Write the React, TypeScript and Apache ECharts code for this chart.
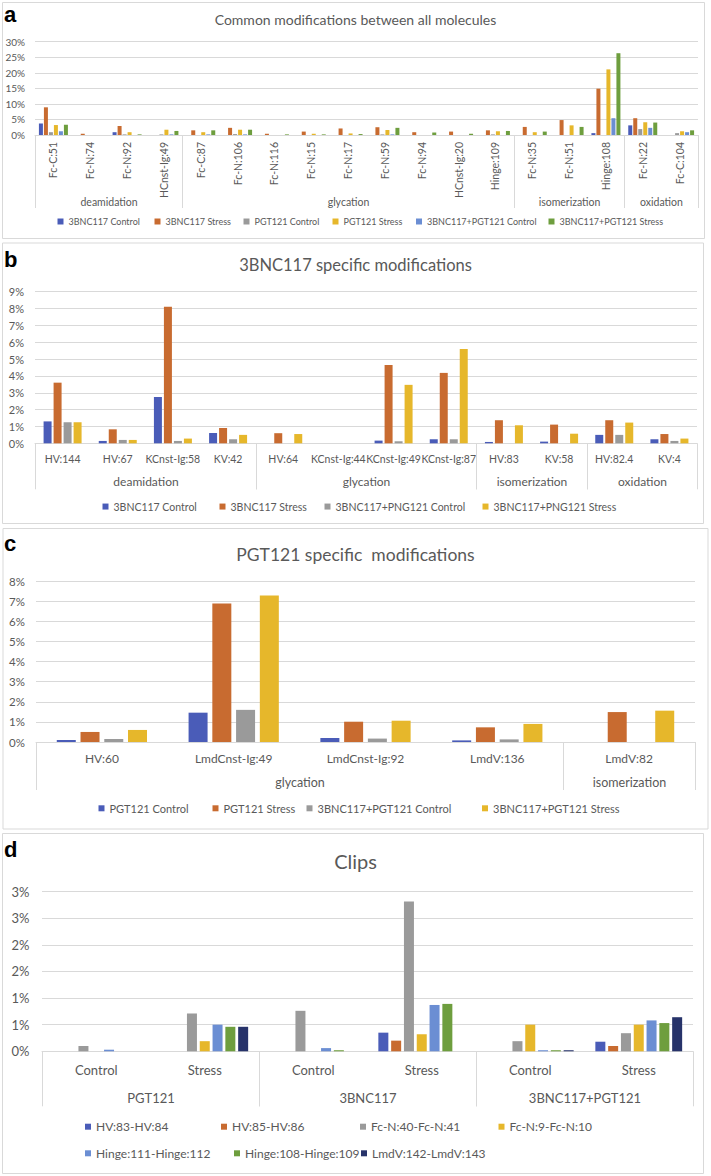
import React, { useEffect, useRef } from "react";
import * as echarts from "echarts";

const FONT = "Lato";
const TXT = "#595959";
const LINE = "#D9D9D9";

const COL_BLUE = "#4A5CB8";
const COL_ORANGE = "#C86B30";
const COL_GRAY = "#9A9A9A";
const COL_YELLOW = "#E6B72B";
const COL_LIGHTBLUE = "#6B8ED3";
const COL_GREEN = "#6E9E3E";
const COL_NAVY = "#27336A";

// ---------- Panel a: Common modifications ----------
const A_CATEGORIES = [
  "Fc-C:51", "Fc-N:74", "Fc-N:92", "HCnst-Ig:49",
  "Fc-C:87", "Fc-N:106", "Fc-N:116", "Fc-N:15", "Fc-N:17", "Fc-N:59", "Fc-N:94", "HCnst-Ig:20", "Hinge:109",
  "Fc-N:35", "Fc-N:51", "Hinge:108",
  "Fc-N:22", "Fc-C:104",
];
const A_GROUP_NAMES = ["deamidation", "glycation", "isomerization", "oxidation"];
const A_GROUP_SIZES = [4, 9, 3, 2];
const A_SERIES_NAMES = [
  "3BNC117 Control", "3BNC117 Stress", "PGT121 Control", "PGT121 Stress",
  "3BNC117+PGT121 Control", "3BNC117+PGT121 Stress",
];
const A_3BNC117_CONTROL = [3.7, 0, 0.9, 0, 0, 0, 0, 0, 0, 0, 0, 0, 0, 0, 0, 0.6, 3.1, 0];
const A_3BNC117_STRESS = [8.9, 0.4, 2.9, 0, 1.5, 2.3, 0.4, 1.1, 2.1, 2.5, 0.9, 1.1, 1.5, 2.6, 4.8, 14.9, 5.4, 0];
const A_PGT121_CONTROL = [0.9, 0, 0.2, 0.2, 0, 0.3, 0, 0, 0, 0.2, 0, 0, 0.2, 0, 0, 0, 1.9, 0.6];
const A_PGT121_STRESS = [3.2, 0, 0.9, 1.7, 0.9, 1.7, 0, 0.4, 0.5, 1.6, 0, 0, 1.2, 0.9, 3.1, 21.1, 4.1, 1.2];
const A_COMBO_CONTROL = [1.2, 0, 0, 0.2, 0.2, 0.2, 0, 0, 0, 0.2, 0, 0, 0, 0, 0, 5.4, 2.3, 0.9];
const A_COMBO_STRESS = [3.3, 0, 0.2, 1.3, 1.5, 1.7, 0.2, 0.2, 0.3, 2.3, 0.8, 0.4, 1.3, 1.1, 2.6, 26.3, 4.0, 1.5];
const A_VALUES = [A_3BNC117_CONTROL, A_3BNC117_STRESS, A_PGT121_CONTROL, A_PGT121_STRESS, A_COMBO_CONTROL, A_COMBO_STRESS];
const A_COLORS = [COL_BLUE, COL_ORANGE, COL_GRAY, COL_YELLOW, COL_LIGHTBLUE, COL_GREEN];
const A_TICKS = { max: 30, interval: 5 };

// ---------- Panel b: 3BNC117 specific ----------
const B_CATEGORIES = [
  "HV:144", "HV:67", "KCnst-Ig:58", "KV:42",
  "HV:64", "KCnst-Ig:44", "KCnst-Ig:49", "KCnst-Ig:87",
  "HV:83", "KV:58",
  "HV:82.4", "KV:4",
];
const B_GROUP_NAMES = ["deamidation", "glycation", "isomerization", "oxidation"];
const B_GROUP_SIZES = [4, 4, 2, 2];
const B_SERIES_NAMES = ["3BNC117 Control", "3BNC117 Stress", "3BNC117+PNG121 Control", "3BNC117+PNG121 Stress"];
const B_3BNC117_CONTROL = [1.3, 0.14, 2.75, 0.61, 0, 0, 0.16, 0.24, 0.08, 0.1, 0.5, 0.24];
const B_3BNC117_STRESS = [3.6, 0.83, 8.1, 0.91, 0.6, 0, 4.65, 4.18, 1.37, 1.11, 1.37, 0.55];
const B_COMBO_CONTROL = [1.25, 0.2, 0.14, 0.24, 0, 0, 0.12, 0.24, 0, 0, 0.5, 0.14];
const B_COMBO_STRESS = [1.25, 0.2, 0.28, 0.5, 0.55, 0, 3.47, 5.6, 1.07, 0.57, 1.23, 0.28];
const B_VALUES = [B_3BNC117_CONTROL, B_3BNC117_STRESS, B_COMBO_CONTROL, B_COMBO_STRESS];
const B_COLORS = [COL_BLUE, COL_ORANGE, COL_GRAY, COL_YELLOW];
const B_TICKS = { max: 9, interval: 1 };

// ---------- Panel c: PGT121 specific ----------
const C_CATEGORIES = ["HV:60", "LmdCnst-Ig:49", "LmdCnst-Ig:92", "LmdV:136", "LmdV:82"];
const C_GROUP_NAMES = ["glycation", "isomerization"];
const C_GROUP_SIZES = [4, 1];
const C_SERIES_NAMES = ["PGT121 Control", "PGT121 Stress", "3BNC117+PGT121 Control", "3BNC117+PGT121 Stress"];
const C_PGT121_CONTROL = [0.1, 1.46, 0.2, 0.08, 0];
const C_PGT121_STRESS = [0.5, 6.89, 1.01, 0.73, 1.49];
const C_COMBO_CONTROL = [0.15, 1.6, 0.17, 0.13, 0];
const C_COMBO_STRESS = [0.6, 7.29, 1.06, 0.9, 1.56];
const C_VALUES = [C_PGT121_CONTROL, C_PGT121_STRESS, C_COMBO_CONTROL, C_COMBO_STRESS];
const C_COLORS = [COL_BLUE, COL_ORANGE, COL_GRAY, COL_YELLOW];
const C_TICKS = { max: 8, interval: 1 };

// ---------- Panel d: Clips ----------
const D_CATEGORIES = ["Control", "Stress", "Control", "Stress", "Control", "Stress"];
const D_GROUP_NAMES = ["PGT121", "3BNC117", "3BNC117+PGT121"];
const D_GROUP_SIZES = [2, 2, 2];
const D_SERIES_NAMES = [
  "HV:83-HV:84", "HV:85-HV:86", "Fc-N:40-Fc-N:41", "Fc-N:9-Fc-N:10",
  "Hinge:111-Hinge:112", "Hinge:108-Hinge:109", "LmdV:142-LmdV:143",
];
const D_HV83_HV84 = [0, 0, 0, 0.35, 0, 0.18];
const D_HV85_HV86 = [0, 0, 0, 0.2, 0, 0.1];
const D_FCN40_FCN41 = [0.1, 0.71, 0.76, 2.81, 0.19, 0.34];
const D_FCN9_FCN10 = [0, 0.19, 0, 0.32, 0.5, 0.5];
const D_HINGE111_HINGE112 = [0.03, 0.5, 0.06, 0.87, 0.02, 0.58];
const D_HINGE108_HINGE109 = [0, 0.46, 0.02, 0.89, 0.02, 0.53];
const D_LMDV142_LMDV143 = [0, 0.46, 0, 0, 0.02, 0.64];
const D_VALUES = [D_HV83_HV84, D_HV85_HV86, D_FCN40_FCN41, D_FCN9_FCN10, D_HINGE111_HINGE112, D_HINGE108_HINGE109, D_LMDV142_LMDV143];
const D_COLORS = [COL_BLUE, COL_ORANGE, COL_GRAY, COL_YELLOW, COL_LIGHTBLUE, COL_GREEN, COL_NAVY];
const D_TICKS = { max: 3, interval: 0.5 };

type Panel = {
  title: string;
  titleTop: number;
  titleSize: number;
  letter: string;
  letterY: number;
  box: [number, number, number, number];
  grid: { left: number; top: number; width: number; height: number };
  categories: string[];
  groupNames: string[];
  groupSizes: number[];
  seriesNames: string[];
  values: number[][];
  colors: string[];
  ticks: { max: number; interval: number };
  yFont: number;
  yMargin: number;
  yFormatter: (v: number) => string;
  catFont: number;
  catMargin: number;
  catRotate: number;
  groupFont: number;
  groupOffset: number;
  sepLen: number;
  barWidth: number;
  barGap: string;
  legendFont: number;
  legendItems: { left: number; yc: number }[];
};

const PANELS: Panel[] = [
  {
    title: "Common modifications between all molecules", titleTop: 12, titleSize: 14,
    letter: "a", letterY: 14, box: [2.5, 2.5, 702, 236],
    grid: { left: 35, top: 41.7, width: 663, height: 93.3 },
    categories: A_CATEGORIES, groupNames: A_GROUP_NAMES, groupSizes: A_GROUP_SIZES,
    seriesNames: A_SERIES_NAMES, values: A_VALUES, colors: A_COLORS, ticks: A_TICKS,
    yFont: 10, yMargin: 10, yFormatter: (v) => `${v}%`,
    catFont: 10.5, catMargin: 7, catRotate: 90,
    groupFont: 10.5, groupOffset: 66.7, sepLen: 73,
    barWidth: 4, barGap: "25%", legendFont: 9,
    legendItems: [
      { left: 57.5, yc: 222.5 }, { left: 154.5, yc: 222.5 }, { left: 243.5, yc: 222.5 },
      { left: 332.5, yc: 222.5 }, { left: 416, yc: 222.5 }, { left: 548.5, yc: 222.5 },
    ],
  },
  {
    title: "3BNC117 specific modifications", titleTop: 256.5, titleSize: 16.5,
    letter: "b", letterY: 259.5, box: [2.5, 243, 701, 280.5],
    grid: { left: 35, top: 291.7, width: 662, height: 151.6 },
    categories: B_CATEGORIES, groupNames: B_GROUP_NAMES, groupSizes: B_GROUP_SIZES,
    seriesNames: B_SERIES_NAMES, values: B_VALUES, colors: B_COLORS, ticks: B_TICKS,
    yFont: 11, yMargin: 11, yFormatter: (v) => `${v}%`,
    catFont: 10.5, catMargin: 10.5, catRotate: 0,
    groupFont: 12, groupOffset: 38.4, sepLen: 46,
    barWidth: 8, barGap: "25%", legendFont: 10.5,
    legendItems: [
      { left: 102.5, yc: 507.3 }, { left: 219.5, yc: 507.3 }, { left: 324.5, yc: 507.3 }, { left: 482.5, yc: 507.3 },
    ],
  },
  {
    title: "PGT121 specific  modifications", titleTop: 545.5, titleSize: 17.5,
    letter: "c", letterY: 543, box: [3, 528.5, 705, 300.5],
    grid: { left: 36, top: 581.3, width: 659, height: 160.7 },
    categories: C_CATEGORIES, groupNames: C_GROUP_NAMES, groupSizes: C_GROUP_SIZES,
    seriesNames: C_SERIES_NAMES, values: C_VALUES, colors: C_COLORS, ticks: C_TICKS,
    yFont: 11.5, yMargin: 11, yFormatter: (v) => `${v}%`,
    catFont: 12, catMargin: 10, catRotate: 0,
    groupFont: 12.5, groupOffset: 40.3, sepLen: 48,
    barWidth: 19, barGap: "25%", legendFont: 11,
    legendItems: [
      { left: 98.5, yc: 809.3 }, { left: 212.5, yc: 809.3 }, { left: 306.5, yc: 809.3 }, { left: 482, yc: 809.3 },
    ],
  },
  {
    title: "Clips", titleTop: 850.5, titleSize: 20,
    letter: "d", letterY: 849.5, box: [2.5, 833.5, 701, 340],
    grid: { left: 42, top: 891.5, width: 651, height: 159.8 },
    categories: D_CATEGORIES, groupNames: D_GROUP_NAMES, groupSizes: D_GROUP_SIZES,
    seriesNames: D_SERIES_NAMES, values: D_VALUES, colors: D_COLORS, ticks: D_TICKS,
    yFont: 13, yMargin: 12.5, yFormatter: (v) => `${Math.round(v)}%`,
    catFont: 13, catMargin: 12, catRotate: 0,
    groupFont: 13, groupOffset: 47, sepLen: 55,
    barWidth: 10, barGap: "28%", legendFont: 12,
    legendItems: [
      { left: 85, yc: 1127.7 }, { left: 221, yc: 1127.7 }, { left: 360, yc: 1127.7 }, { left: 498.5, yc: 1127.7 },
      { left: 85, yc: 1154.3 }, { left: 234, yc: 1154.3 }, { left: 361, yc: 1154.3 },
    ],
  },
];

function makeGroupRenderer(names: string[], sepLen: number, labelOff: number, fontSize: number) {
  return (params: any, api: any) => {
    const s = api.value(0) as number;
    const e = api.value(2) as number;
    const band = (api.size([1, 0]) as number[])[0];
    const p0 = api.coord([s, 0]);
    const p1 = api.coord([e, 0]);
    const x0 = Math.round(p0[0] - band / 2) + 0.5;
    const x1 = Math.round(p1[0] + band / 2) + 0.5;
    const y = p0[1];
    return {
      type: "group",
      children: [
        { type: "line", shape: { x1: x0, y1: y, x2: x0, y2: y + sepLen }, style: { stroke: LINE, lineWidth: 1 } },
        { type: "line", shape: { x1: x1, y1: y, x2: x1, y2: y + sepLen }, style: { stroke: LINE, lineWidth: 1 } },
        {
          type: "text",
          x: (x0 + x1) / 2,
          y: y + labelOff,
          style: {
            text: names[params.dataIndex],
            fill: TXT,
            fontSize,
            fontFamily: FONT,
            align: "center",
            verticalAlign: "middle",
          },
        },
      ],
    };
  };
}

function buildOption() {
  const grid: any[] = [];
  const xAxis: any[] = [];
  const yAxis: any[] = [];
  const series: any[] = [];
  const legend: any[] = [];
  const title: any[] = [];
  const graphic: any[] = [];

  PANELS.forEach((p, gi) => {
    grid.push({ ...p.grid, containLabel: false });
    xAxis.push({
      type: "category",
      gridIndex: gi,
      data: p.categories.map((c, i) => ({ value: `${i}|${c}` })),
      axisTick: { show: false },
      axisLine: { show: true, lineStyle: { color: LINE, width: 1 } },
      axisLabel: {
        interval: 0,
        rotate: p.catRotate,
        color: TXT,
        fontSize: p.catFont,
        fontFamily: FONT,
        margin: p.catMargin,
        formatter: (v: string) => v.split("|")[1],
      },
      splitLine: { show: false },
    });
    yAxis.push({
      type: "value",
      gridIndex: gi,
      min: 0,
      max: p.ticks.max,
      interval: p.ticks.interval,
      axisLine: { show: false },
      axisTick: { show: false },
      axisLabel: { color: TXT, fontSize: p.yFont, fontFamily: FONT, margin: p.yMargin, formatter: p.yFormatter },
      splitLine: { lineStyle: { color: LINE, width: 1 } },
    });
    p.seriesNames.forEach((name, si) => {
      series.push({
        type: "bar",
        name,
        xAxisIndex: gi,
        yAxisIndex: gi,
        data: p.values[si],
        barWidth: p.barWidth,
        barGap: p.barGap,
        itemStyle: { color: p.colors[si] },
        emphasis: { disabled: true },
      });
    });
    let start = 0;
    const groupData = p.groupSizes.map((n) => {
      const d = [start, 0, start + n - 1];
      start += n;
      return d;
    });
    series.push({
      type: "custom",
      name: `groups-${gi}`,
      xAxisIndex: gi,
      yAxisIndex: gi,
      data: groupData,
      encode: { x: 0, y: 1 },
      clip: false,
      silent: true,
      z: 5,
      renderItem: makeGroupRenderer(p.groupNames, p.sepLen, p.groupOffset, p.groupFont),
    });
    p.seriesNames.forEach((name, si) => {
      const pos = p.legendItems[si];
      legend.push({
        data: [{ name, itemStyle: { color: p.colors[si] } }],
        left: pos.left,
        top: pos.yc - p.legendFont / 2 - 1,
        padding: 0,
        icon: "rect",
        itemWidth: 6,
        itemHeight: 6,
        selectedMode: false,
        textStyle: { color: TXT, fontSize: p.legendFont, fontFamily: FONT },
      });
    });
    title.push({
      text: p.title,
      left: "center",
      top: p.titleTop,
      padding: 0,
      textStyle: { color: TXT, fontSize: p.titleSize, fontWeight: "normal", fontFamily: FONT },
    });
    graphic.push({
      type: "rect",
      shape: { x: p.box[0], y: p.box[1], width: p.box[2], height: p.box[3] },
      style: { fill: "none", stroke: LINE, lineWidth: 1 },
      z: -10,
      silent: true,
    });
    graphic.push({
      type: "text",
      x: 4,
      y: p.letterY,
      style: {
        text: p.letter,
        fill: "#000000",
        font: 'bold 22px "Liberation Sans", Arial, sans-serif',
        verticalAlign: "middle",
        align: "left",
      },
      z: 10,
      silent: true,
    });
  });

  return {
    animation: false,
    backgroundColor: "#ffffff",
    textStyle: { fontFamily: FONT },
    title,
    grid,
    xAxis,
    yAxis,
    legend,
    series,
    graphic,
  };
}

export default function App() {
  const ref = useRef<HTMLDivElement>(null);
  useEffect(() => {
    if (!ref.current) return;
    const chart = echarts.init(ref.current, undefined, { renderer: "svg" });
    chart.setOption(buildOption() as any);
    return () => chart.dispose();
  }, []);
  return (
    <div
      ref={ref}
      style={{ position: "absolute", left: 0, top: 0, width: 711, height: 1176, background: "#fff" }}
    />
  );
}
